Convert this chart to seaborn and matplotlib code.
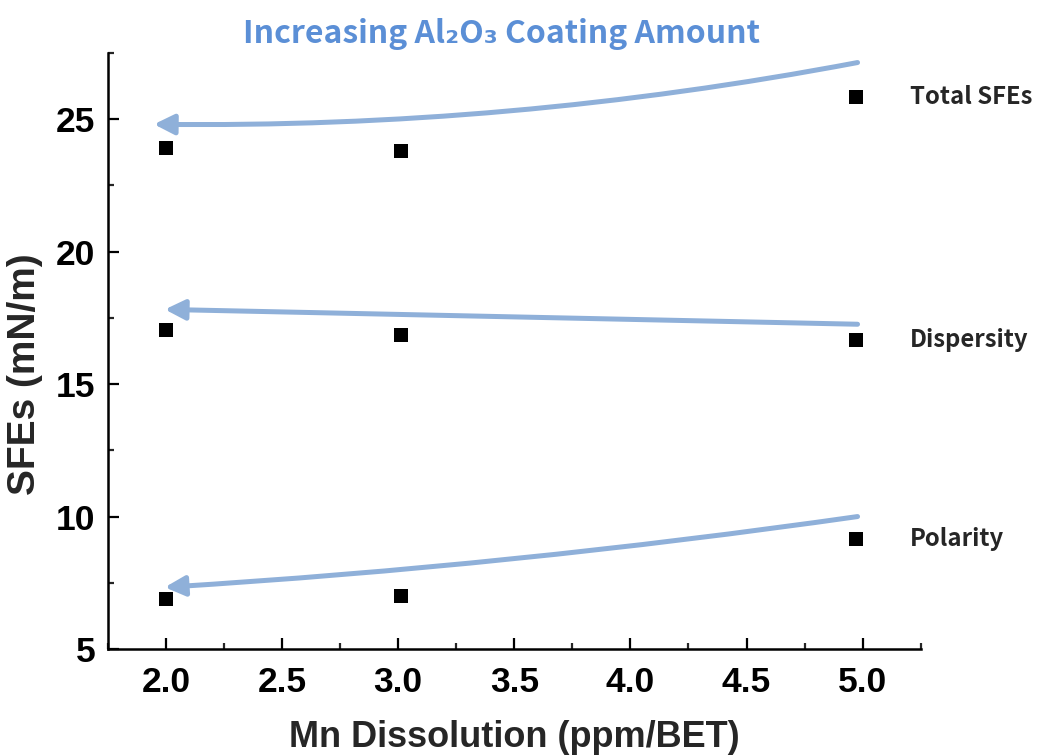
import matplotlib
matplotlib.use("Agg")
import matplotlib.pyplot as plt
import seaborn as sns
import pandas as pd
from matplotlib.ticker import MultipleLocator, FormatStrFormatter

# Surface free energy components versus Mn dissolution
mn_dissolution = [2.0, 3.01, 4.97]
total_sfe = [23.9, 23.8, 25.83]
dispersity = [17.03, 16.84, 16.65]
polarity = [6.88, 6.99, 9.17]
series_names = ["Total SFEs", "Dispersity", "Polarity"]

# Trend arrows (start -> tip) in data units and their curvature
arrow_starts = [(4.978, 27.14), (4.978, 17.26), (4.978, 10.0)]
arrow_tips = [(1.948, 24.81), (1.995, 17.82), (1.995, 7.33)]
arrow_rads = [-0.05, 0.0, -0.02]

sns.set_theme(style="ticks")
plt.rcParams["font.family"] = ["Liberation Sans", "DejaVu Sans"]

df = pd.DataFrame({
    "x": mn_dissolution * 3,
    "y": total_sfe + dispersity + polarity,
    "series": [s for s in series_names for _ in mn_dissolution],
})

fig = plt.figure(figsize=(10.38, 7.55), dpi=100)
ax = fig.add_axes([0.104, 0.1404, 0.783, 0.7894])

sns.scatterplot(data=df, x="x", y="y", marker="s", color="black",
                s=90, linewidth=0, legend=False, ax=ax, zorder=3)

ax.set_xlim(1.75, 5.25)
ax.set_ylim(5, 27.5)
ax.xaxis.set_major_locator(MultipleLocator(0.5))
ax.xaxis.set_minor_locator(MultipleLocator(0.25))
ax.yaxis.set_major_locator(MultipleLocator(5))
ax.yaxis.set_minor_locator(MultipleLocator(2.5))

for side in ["top", "right"]:
    ax.spines[side].set_visible(False)
for side in ["left", "bottom"]:
    ax.spines[side].set_linewidth(1.8)
    ax.spines[side].set_color("black")

ax.tick_params(which="major", direction="in", length=8, width=1.6,
               labelsize=25.5, colors="black")
ax.tick_params(axis="x", which="major", pad=12)
ax.tick_params(axis="y", which="major", pad=9)
ax.tick_params(which="minor", direction="in", length=4.5, width=1.6)
ax.xaxis.set_major_formatter(FormatStrFormatter("%.1f"))
for lab in ax.get_xticklabels() + ax.get_yticklabels():
    lab.set_fontweight("bold")

ax.set_xlabel("Mn Dissolution (ppm/BET)", fontsize=26, fontweight="bold",
              va="center")
ax.xaxis.set_label_coords(0.5, -0.148)
ax.set_ylabel("SFEs (mN/m)", fontsize=28, fontweight="bold", va="center")
ax.yaxis.set_label_coords(-0.102, 0.461)

arrow_color = "#8fb0d9"
for start, tip, rad in zip(arrow_starts, arrow_tips, arrow_rads):
    ax.annotate("", xy=tip, xytext=start,
                arrowprops=dict(arrowstyle="-|>,head_length=1.2,head_width=0.6",
                                color=arrow_color, lw=3.6, mutation_scale=10,
                                shrinkA=0, shrinkB=0,
                                connectionstyle=f"arc3,rad={rad}"),
                zorder=2)

# Series names beside the last point of each series
for name, vals in zip(series_names, [total_sfe, dispersity, polarity]):
    ax.annotate(name, xy=(mn_dissolution[-1], vals[-1]), xytext=(39, 0),
                textcoords="offset points", ha="left", va="center",
                fontsize=17.2, fontweight="bold",
                family=["Noto Sans CJK KR", "DejaVu Sans"], annotation_clip=False)

fig.text(0.4836, 0.955, "Increasing Al₂O₃ Coating Amount", ha="center",
         va="center", fontsize=23, fontweight="bold", color="#5b8fd6",
         family=["Noto Sans CJK KR", "DejaVu Sans"])

fig.savefig("out.png", dpi=100)
